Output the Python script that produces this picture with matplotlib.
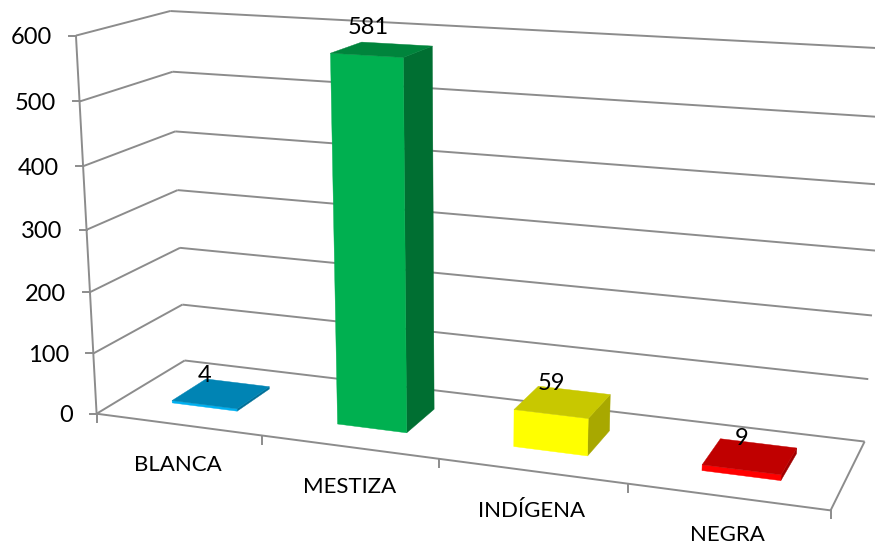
import numpy as np
import matplotlib
matplotlib.use("Agg")
import matplotlib.pyplot as plt
from matplotlib.patches import Polygon

categories = ["BLANCA", "MESTIZA", "INDÍGENA", "NEGRA"]
values = [4, 581, 59, 9]
value_ticks = [0, 100, 200, 300, 400, 500, 600]
front_colors = ["#00B0F0", "#00B050", "#FFFF00", "#FF0000"]
top_colors = ["#0084B4", "#00843C", "#C8C800", "#C00000"]
side_colors = ["#006F97", "#006F32", "#A8A800", "#A00000"]

# camera calibration: (category pos, depth, value) -> picture pixel
calib = [
    (0, 0, 0, 97, 414), (0, 0, 100, 93.5, 353), (0, 0, 200, 90, 292), (0, 0, 300, 86, 229),
    (0, 0, 400, 82.5, 166), (0, 0, 500, 80, 101), (0, 0, 600, 76, 36),
    (0, 1, 0, 184.5, 360.7), (0, 1, 100, 182, 304.6), (0, 1, 300, 178, 190),
    (0, 1, 400, 175, 131.5), (0, 1, 500, 173, 72), (0, 1, 600, 170, 11.5),
    (4, 1, 0, 865, 441), (4, 1, 100, 868, 379), (4, 1, 200, 872, 315),
    (4, 1, 600, 888, 48.7), (4, 0, 0, 830, 510),
    (1, 0, 0, 263, 435), (2, 0, 0, 439, 460), (3, 0, 0, 628, 485),
]
A = []
for c, d, v, px, py in calib:
    w = v / 100
    A.append([c, d, w, 1, 0, 0, 0, 0, -px * c, -px * d, -px * w, -px])
    A.append([0, 0, 0, 0, c, d, w, 1, -py * c, -py * d, -py * w, -py])
P = np.linalg.svd(np.array(A, float))[2][-1].reshape(3, 4)


def project(c, d, v):
    h = P @ np.array([c, d, v / 100, 1.0])
    return h[0] / h[2], h[1] / h[2]


fig = plt.figure(figsize=(8.75, 5.46), dpi=100, facecolor="white")
ax = fig.add_axes([0, 0, 1, 1])
ax.set_xlim(0, 875)
ax.set_ylim(546, 0)
ax.axis("off")

FONT = "Lato"
GRID = "#8C8C8C"
LW = 1.4


def seg(a, b):
    pa, pb = project(*a), project(*b)
    ax.plot([pa[0], pb[0]], [pa[1], pb[1]], color=GRID, lw=LW, solid_capstyle="butt", zorder=1)


n = len(categories)
for v in value_ticks:
    seg((0, 0, v), (0, 1, v))
    seg((0, 1, v), (n, 1, v))
    x0, y0 = project(0, 0, v)
    ax.plot([x0 - 7, x0], [y0, y0], color=GRID, lw=LW, zorder=1)
    ax.text(x0 - 24, y0 + 2, str(v), ha="right", va="center", fontsize=17, family=FONT, color="black")
seg((0, 0, 0), (0, 0, value_ticks[-1]))
seg((0, 0, 0), (n, 0, 0))
seg((n, 0, 0), (n, 1, 0))
for i in range(n + 1):
    x0, y0 = project(i, 0, 0)
    ax.plot([x0, x0], [y0, y0 + 8], color=GRID, lw=LW, zorder=1)

label_nudge_x = [-17, -14, -11, -8]
label_nudge_y = [-18, -22, -18, -18]
name_nudge_y = [47, 46, 46, 44]
X0, X1, D0, D1 = 0.3, 0.7, 0.3, 0.7
for i, (name, val) in enumerate(zip(categories, values)):
    l, r = i + X0, i + X1
    quad = lambda pts: [project(*p) for p in pts]
    side = quad([(r, D0, 0), (r, D1, 0), (r, D1, val), (r, D0, val)])
    front = quad([(l, D0, 0), (r, D0, 0), (r, D0, val), (l, D0, val)])
    top = quad([(l, D0, val), (r, D0, val), (r, D1, val), (l, D1, val)])
    ax.add_patch(Polygon(side, fc=side_colors[i], ec=side_colors[i], lw=0.3, zorder=3))
    ax.add_patch(Polygon(front, fc=front_colors[i], ec=front_colors[i], lw=0.3, zorder=3))
    ax.add_patch(Polygon(top, fc=top_colors[i], ec=top_colors[i], lw=0.3, zorder=3))
    lx, ly = project(i + 0.5, 0.5, val)
    ax.text(lx + label_nudge_x[i], ly + label_nudge_y[i], str(val), ha="center", va="center",
            fontsize=17, family=FONT, color="black", zorder=5)
    cx, cy = project(i + 0.5, 0, 0)
    ax.text(cx, cy + name_nudge_y[i], name, ha="center", va="baseline", fontsize=16, family=FONT, color="black", zorder=5)

fig.savefig("out.png", dpi=100)
